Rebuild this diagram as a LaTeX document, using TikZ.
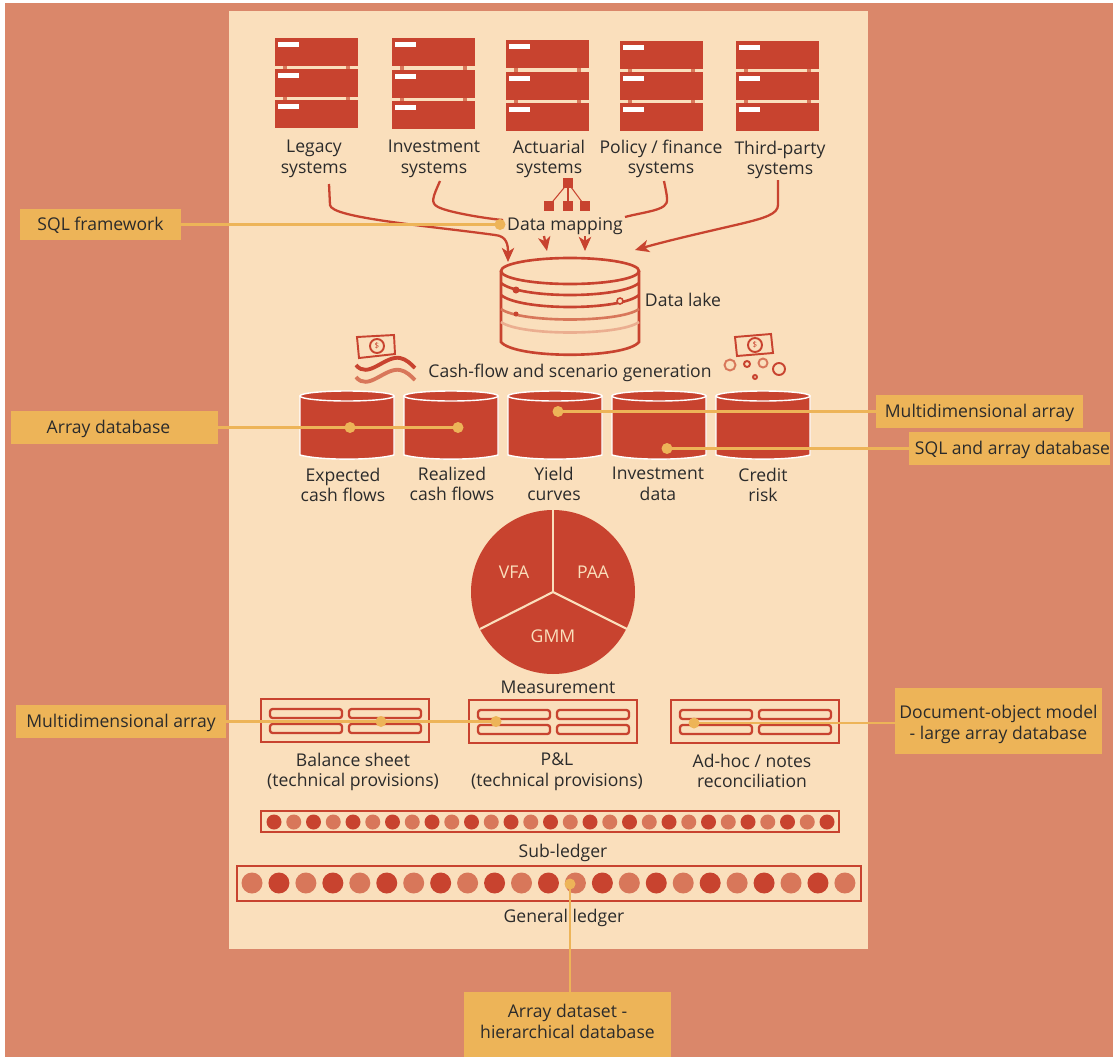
\documentclass[tikz,border=0pt]{standalone}
\usepackage{fontspec}
\setmainfont{Open Sans}
\usetikzlibrary{arrows.meta}

\definecolor{backsalmon}{HTML}{DA876A}
\definecolor{paneltan}{HTML}{FADFBC}
\definecolor{brick}{HTML}{C8432F}
\definecolor{brickpale}{HTML}{D8775A}
\definecolor{brickfaint}{HTML}{EBAE90}
\definecolor{callorange}{HTML}{EDB458}
\definecolor{inktext}{HTML}{2B2B2B}

\tikzset{
  tag/.style={font=\fontsize{10}{11.9}\selectfont, text=inktext, align=center, inner sep=0pt, yshift=-1.1pt},
  callbox/.style={fill=callorange, font=\fontsize{10}{11.9}\selectfont, text=inktext, align=center, inner sep=0pt, minimum height=#1*0.02cm},
  callsingle/.style={callbox=#1, text height=7.2pt, text depth=0pt},
  callline/.style={callorange, line width=1.3pt},
  calldot/.style={fill=callorange},
  feedline/.style={brick, line width=1.3pt, -{Stealth[length=8pt,width=7pt,inset=2.2pt]}},
  feedplain/.style={brick, line width=1.3pt},
  drumline/.style={brick, line width=1.5pt},
  frameline/.style={brick, line width=1.4pt},
  slotline/.style={brick, line width=1.3pt, rounded corners=1.5pt},
}

% Server stack: left x, top y of each block
\newcommand{\serverstack}[4]{
  \foreach \ytop in {#2,#3,#4} {
    \fill[brick] (#1,\ytop) rectangle ++(83,28);
    \fill[white] ({#1+3},{\ytop+4}) rectangle ++(21,5);
  }
  \foreach \xtab in {8,71} {
    \fill[brickpale] ({#1+\xtab},{#2+28}) rectangle ++(4,{#3-#2-28});
    \fill[brickpale] ({#1+\xtab},{#3+28}) rectangle ++(4,{#4-#3-28});
  }
}
% Report frame: left x, top y, with four slots
\newcommand{\reportframe}[2]{
  \draw[frameline] (#1,#2) rectangle ++(168,43);
  \foreach \xslot in {9,88} {
    \draw[slotline] ({#1+\xslot},{#2+10}) rectangle ++(72,9);
    \draw[slotline] ({#1+\xslot},{#2+25}) rectangle ++(72,9);
  }
}
% Banknote: four corners and centre
\newcommand{\banknote}[5]{
  \draw[brick, line width=1.1pt] #1 -- #2 -- #3 -- #4 -- cycle;
  \draw[brick, line width=1.1pt] #5 circle (7);
  \node[text=brick, font=\fontsize{4.5}{5}\selectfont, inner sep=0pt] at #5 {\$};
}

\begin{document}
\begin{tikzpicture}[x=0.02cm, y=-0.02cm]
  \useasboundingbox (0,0) rectangle (1113,1058);

  % Fondos
  \fill[backsalmon] (5,3) rectangle (1113,1057);
  \fill[paneltan] (229,11) rectangle (868,949);

  % Sistemas de origen
  \serverstack{275}{38}{69}{100}
  \serverstack{392}{38}{70}{101}
  \serverstack{506}{40}{72}{103}
  \serverstack{620}{41}{72}{103}
  \serverstack{736}{41}{72}{103}
  \node[tag] (legacy) at (314,157) {Legacy\\systems};
  \node[tag] (investment) at (434,157) {Investment\\systems};
  \node[tag] (actuarial) at (549,157) {Actuarial\\systems};
  \node[tag] (policy) at (661,157) {Policy / finance\\systems};
  \node[tag] (thirdparty) at (780,158) {Third-party\\systems};

  % Mapeo de datos
  \fill[brick] (563,178) rectangle ++(10,10);
  \fill[brick] (544,201) rectangle ++(10,10);
  \fill[brick] (563,201) rectangle ++(10,10);
  \fill[brick] (580,201) rectangle ++(10,10);
  \draw[brick, line width=0.6pt] (568,183) -- (549,206);
  \draw[brick, line width=0.6pt] (568,183) -- (568,206);
  \draw[brick, line width=0.6pt] (568,183) -- (585,206);
  \node[tag] (mapping) at (565,224) {Data mapping};

  % Flechas hacia el lago
  \coordinate (lakeA) at (508,262);
  \coordinate (lakeB) at (635,250);
  \coordinate (lakeC) at (547,251);
  \coordinate (lakeD) at (585,251);
  \coordinate (mapin) at (503,220);
  \coordinate (mapout) at (625,217);
  \draw[feedline] (329,184) -- (330,205) .. controls (331,218) and (430,226) .. (495,235) .. controls (507,236) and (508,245) .. (lakeA);
  \draw[feedplain] (440,181) .. controls (433,197) and (430,203) .. (438,207) .. controls (450,213) and (490,219) .. (mapin);
  \draw[feedplain] (664,181) .. controls (667,196) and (669,203) .. (664,206) .. controls (658,211) and (640,213) .. (mapout);
  \draw[feedline] (778,180) -- (778,205) .. controls (778,214) and (765,218) .. (740,224) .. controls (710,231) and (670,240) .. (lakeB);
  \draw[feedline] (544,236) -- (lakeC);
  \draw[feedline] (585,236) -- (lakeD);

  % Lago de datos
  \draw[drumline] (501,271) -- (501,342) .. controls (515,359) and (625,359) .. (639,342) -- (639,271);
  \draw[drumline] (570,271) ellipse [x radius=69, y radius=13];
  \draw[drumline] (501,283) .. controls (520,299) and (620,299) .. (639,283);
  \draw[drumline] (501,295) .. controls (520,311) and (620,311) .. (639,295);
  \draw[brickpale, line width=1.5pt] (501,309) .. controls (520,323) and (620,323) .. (639,309);
  \draw[brickfaint, line width=1.5pt] (501,322) .. controls (520,336) and (620,336) .. (639,322);
  \fill[brick] (516,290) circle (3.5);
  \draw[brick, line width=0.9pt, fill=paneltan] (620,301) circle (3);
  \fill[brick] (516,314) circle (2.5);
  \node[tag] (lake) at (683,298) {Data lake};

  % Generación de flujos
  \node[tag] (cashflow) at (570,371) {Cash-flow and scenario generation};
  \banknote{(357,337)}{(394,335)}{(395,354)}{(359,358)}{(377,346)}
  \draw[brick, line width=2.2pt] (356,365) .. controls (368,380) and (385,355) .. (400,358) .. controls (406,359) and (411,364) .. (415,368);
  \draw[brickpale, line width=2.2pt] (356,377) .. controls (368,392) and (385,367) .. (400,370) .. controls (406,371) and (411,376) .. (415,380);
  \banknote{(735,337)}{(771,334)}{(773,353)}{(737,356)}{(755,345)}
  \draw[brickpale, line width=1.1pt] (730,365) circle (5.5);
  \draw[brick, line width=1.1pt] (747,364) circle (3);
  \draw[brickpale, line width=1.1pt] (763,363) circle (4.5);
  \draw[brick, line width=1.1pt] (779,369) circle (6);
  \draw[brick, line width=1.1pt] (755,377) circle (2);

  % Cilindros
  \foreach \xleft in {300,404,508,612,716} {
    \draw[white, line width=0.8pt, fill=brick] (\xleft,396) -- (\xleft,455) .. controls ({\xleft+20},460.5) and ({\xleft+74},460.5) .. ({\xleft+94},455) -- ({\xleft+94},396) -- cycle;
    \draw[white, line width=0.8pt, fill=brick] ({\xleft+47},396) ellipse [x radius=47, y radius=5];
  }
  \node[tag] (expected) at (343,483) {Expected\\cash flows};
  \node[tag] (realized) at (452,482) {Realized\\cash flows};
  \node[tag] (yield) at (554,482) {Yield\\curves};
  \node[tag] (investdata) at (658,482) {Investment\\data};
  \node[tag] (credit) at (763,483) {Credit\\risk};

  % Medición
  \fill[brick] (553,592) circle (82);
  \draw[paneltan, line width=1.2pt] (553,592) -- (553,510);
  \draw[paneltan, line width=1.2pt] (553,592) -- (480,629);
  \draw[paneltan, line width=1.2pt] (553,592) -- (627,629);
  \node[tag, text=paneltan] (vfa) at (514,570) {VFA};
  \node[tag, text=paneltan] (paa) at (593,570) {PAA};
  \node[tag, text=paneltan] (gmm) at (553,634) {GMM};
  \node[tag] (measurement) at (558,685) {Measurement};

  % Informes
  \reportframe{261}{699}
  \reportframe{469}{700}
  \reportframe{671}{700}
  \node[tag] (balance) at (353,770) {Balance sheet\\(technical provisions)};
  \node[tag] (pl) at (557,770) {P\&L\\(technical provisions)};
  \node[tag] (adhoc) at (752,769) {Ad-hoc / notes\\reconciliation};

  % Libros
  \draw[frameline] (261,811) rectangle (839,832);
  \foreach \idot in {0,...,28} {
    \pgfmathsetmacro{\xdot}{274+19.75*\idot}
    \ifodd\idot
      \fill[brickpale] (\xdot,822) circle (7.5);
    \else
      \fill[brick] (\xdot,822) circle (7.5);
    \fi
  }
  \node[tag] (subledger) at (563,851) {Sub-ledger};
  \draw[frameline] (237,866) rectangle (861,901);
  \foreach \idot in {0,...,22} {
    \pgfmathsetmacro{\xdot}{252+26.95*\idot}
    \ifodd\idot
      \fill[brick] (\xdot,883) circle (10.5);
    \else
      \fill[brickpale] (\xdot,883) circle (10.5);
    \fi
  }
  \node[tag] (genledger) at (564,916) {General ledger};

  % Recuadros de tecnología
  \node[callsingle=31, minimum width=161*0.02cm] (boxsql) at (100.5,224.5) {SQL framework};
  \node[callsingle=33, minimum width=207*0.02cm] (boxarray) at (114.5,427.5) {Array database\hspace*{6.8pt}};
  \node[callsingle=33, minimum width=207*0.02cm] (boxmulti) at (979.5,411.5) {Multidimensional array};
  \node[callsingle=33, minimum width=201*0.02cm] (boxsqlarray) at (1009.5,448.5) {\hspace*{3.4pt}SQL and array database};
  \node[callsingle=33, minimum width=210*0.02cm] (boxmultileft) at (121,721.5) {Multidimensional array};
  \node[callbox=66, minimum width=207*0.02cm] (boxdoc) at (998.5,721) {\rule{0pt}{11pt}Document-object model\\- large array database};
  \node[callbox=65, minimum width=207*0.02cm] (boxdataset) at (567.5,1024.5) {Array dataset -\\hierarchical database\rule[-3.8pt]{0pt}{0pt}};

  % Puntos y líneas de llamada
  \coordinate (dotsql) at (500,224.5);
  \coordinate (dotexpected) at (350,427.5);
  \coordinate (dotrealized) at (458,427.5);
  \coordinate (dotyield) at (558,411.5);
  \coordinate (dotinvest) at (667,448.5);
  \coordinate (dotbalance) at (381,721.5);
  \coordinate (dotpl) at (496,721.5);
  \coordinate (dotadhoc) at (694,723);
  \coordinate (dotgeneral) at (570,884);
  \draw[callline] (boxsql.east) -- (dotsql);
  \draw[callline] (boxarray.east) -- (dotrealized);
  \draw[callline] (boxmulti.west) -- (dotyield);
  \draw[callline] (boxsqlarray.west) -- (dotinvest);
  \draw[callline] (boxmultileft.east) -- (dotpl);
  \draw[callline] (dotadhoc) -- (dotadhoc -| boxdoc.west);
  \draw[callline] (dotgeneral) -- (dotgeneral |- boxdataset.north);
  \foreach \dotname in {dotsql,dotexpected,dotrealized,dotyield,dotinvest,dotbalance,dotpl,dotadhoc,dotgeneral}
    \fill[calldot] (\dotname) circle (5.5);

\end{tikzpicture}
\end{document}
